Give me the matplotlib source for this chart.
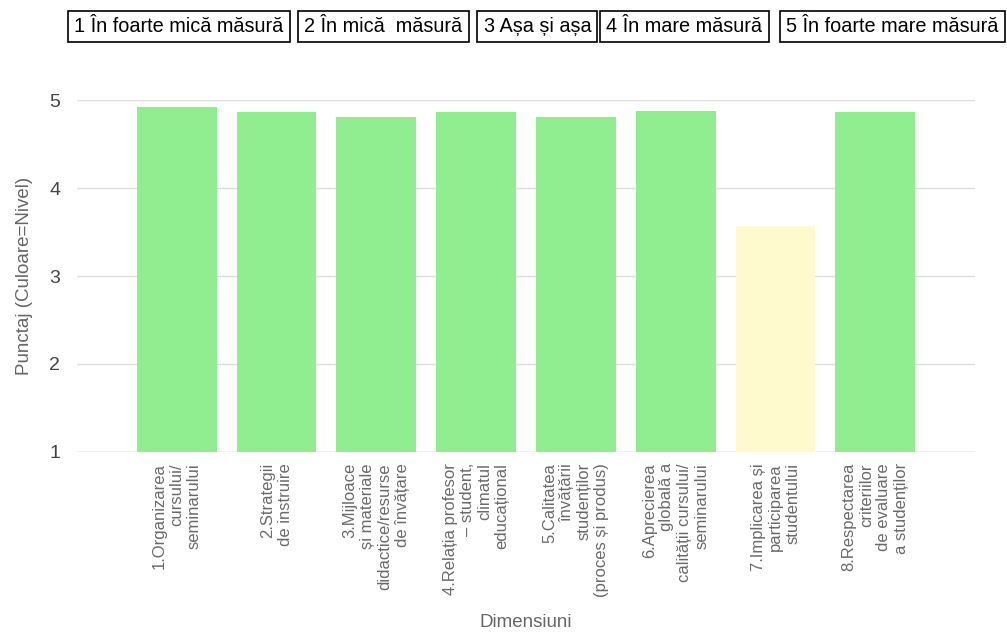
import matplotlib
matplotlib.use("Agg")
import matplotlib.pyplot as plt
from matplotlib import font_manager

# Dimensions evaluated and their average scores
dimensiuni = [
    "1.Organizarea\ncursului/\nseminarului",
    "2.Strategii\nde instruire",
    "3.Mijloace\nși materiale\ndidactice/resurse\nde învățare",
    "4.Relația profesor\n– student,\nclimatul\neducațional",
    "5.Calitatea\nînvățării\nstudenților\n(proces și produs)",
    "6.Aprecierea\nglobală a\ncalității cursului/\nseminarului",
    "7.Implicarea și\nparticiparea\nstudentului",
    "8.Respectarea\ncriteriilor\nde evaluare\na studenților",
]
punctaj = [4.92, 4.86, 4.81, 4.86, 4.81, 4.88, 3.57, 4.86]
culori = ["#90ee90", "#90ee90", "#90ee90", "#90ee90",
          "#90ee90", "#90ee90", "#fffacd", "#90ee90"]

niveluri = ["1 În foarte mică măsură", "2 În mică  măsură", "3 Așa și așa",
            "4 În mare măsură", "5 În foarte mare măsură"]
y_ticks = [1, 2, 3, 4, 5]

plt.rcParams['font.family'] = ['Liberation Sans', 'DejaVu Sans']

# pick a narrow face for the level boxes if there is one
names = {f.name for f in font_manager.fontManager.ttflist}
if 'Liberation Sans Narrow' in names:
    box_font, box_size = 'Liberation Sans Narrow', 17
else:
    box_font, box_size = 'Liberation Sans', 14.3

fig = plt.figure(figsize=(10.07, 6.35), dpi=100)
ax = fig.add_axes([0.0765, 0.2882, 0.8917, 0.5543])

x = list(range(len(dimensiuni)))
ax.bar(x, punctaj, width=0.8, color=culori, zorder=2)

ax.set_xlim(-1, len(dimensiuni))
ax.set_ylim(1, 5)
ax.set_yticks(y_ticks)
ax.set_xticks(x)
ax.set_xticklabels(dimensiuni, rotation=90, ha='center', va='top',
                   multialignment='right', fontsize=12, color='#6a6a6a',
                   linespacing=1.2)
ax.tick_params(axis='both', length=0)
ax.tick_params(axis='x', pad=8)
ax.tick_params(axis='y', pad=12, labelsize=14, labelcolor='#444444')

ax.grid(axis='y', color='#dddddd', linewidth=1, zorder=0)
ax.axhline(1, color='#cccccc', linewidth=1, zorder=1)
for s in ax.spines.values():
    s.set_visible(False)

ax.set_xlabel("Dimensiuni", fontsize=13.5, color='#666666', labelpad=12)
ax.set_ylabel("Punctaj (Culoare=Nivel)", fontsize=13.5, color='#666666', labelpad=12)

# Level legend boxes at the top
box_left = [68, 298, 477, 600, 780]
for bx, txt in zip(box_left, niveluri):
    fig.text((bx + 6.5) / 1007, 1 - 26.5 / 635, txt, ha='left', va='center',
             fontsize=box_size, family=[box_font, 'DejaVu Sans'],
             color='black',
             bbox=dict(boxstyle='square,pad=0.32', fc='white', ec='black', lw=1.2))

fig.savefig("out.png", dpi=100)
